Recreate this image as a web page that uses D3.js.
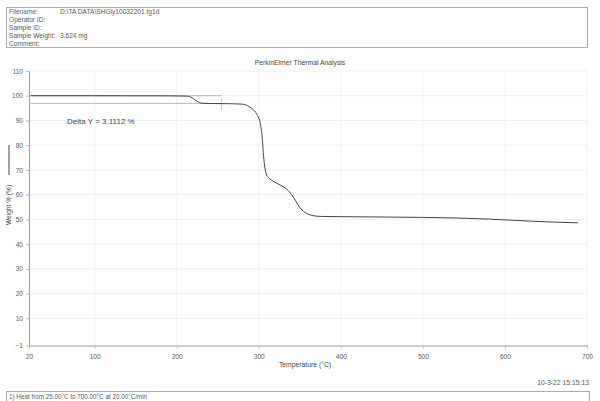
<!DOCTYPE html>
<html><head><meta charset="utf-8">
<script src="https://cdn.jsdelivr.net/npm/d3@7"></script>
<style>body{margin:0;background:#fff}svg{display:block}text{font-family:"Liberation Sans",Arial,sans-serif}</style>
</head><body><svg id="c" width="600" height="401"></svg>
<script>
const temperature = [22,100,190,212,216,219,222,225,228,232,240,260,280,286,291,295,298,301,303,304.5,305.5,307,309,312,316,322,330,336,340,345,350,356,362,368,376,400,450,500,537,582,630,660,689];
const weight = [100.0,100.0,99.95,99.85,99.6,99.1,98.4,97.7,97.2,96.95,96.85,96.8,96.6,96.0,95.0,93.8,92.3,90.0,86.5,82,77,72,68.5,66.8,65.8,64.6,63.2,61.6,60.0,57.5,54.8,52.9,51.9,51.4,51.2,51.1,50.95,50.8,50.6,50.1,49.3,48.9,48.6];
const xTicks = [20,100,200,300,400,500,600,700];
const yTicks = [-1,10,20,30,40,50,60,70,80,90,100,110];
const deltaRef = [100.0, 96.89];
const deltaEndT = 254.8;
const header = [["Filename:","D:\\TA DATA\\SHGly10032201.tg1d"],["Operator ID:",""],["Sample ID:",""],["Sample Weight:","3.624 mg"],["Comment:",""]];

const svg = d3.select("#c");
const x = d3.scaleLinear().domain([20,700]).range([29,587]);
const y = d3.scaleLinear().domain([-1,110]).range([345.5,71]);
const txt = "#5a5a5a", ax = "#9a9a9a";

// header box
svg.append("rect").attr("x",6.5).attr("y",7.5).attr("width",581).attr("height",40).attr("fill","none").attr("stroke","#aaa");
header.forEach((h,i)=>{
  const yy = 14 + i*8;
  svg.append("text").attr("x",9).attr("y",yy).attr("font-size",6.6).attr("fill",txt).text(h[0]);
  if(h[1]) svg.append("text").attr("x",60).attr("y",yy).attr("font-size",6.6).attr("fill",txt).text(h[1]);
});

svg.append("text").attr("x",300).attr("y",65).attr("text-anchor","middle").attr("font-size",6.8).attr("fill","#444").text("PerkinElmer Thermal Analysis");

// grid
svg.append("g").selectAll("line").data(yTicks.filter(d=>d!==-1)).join("line")
  .attr("x1",x(20)).attr("x2",x(700)).attr("y1",d=>y(d)).attr("y2",d=>y(d)).attr("stroke","#efefef").attr("stroke-width",1);
svg.append("g").selectAll("line").data(xTicks.filter(d=>d!==20)).join("line")
  .attr("y1",y(-1)).attr("y2",y(110)).attr("x1",d=>x(d)).attr("x2",d=>x(d)).attr("stroke","#f2f2f2").attr("stroke-width",1);

// axes
const gx = svg.append("g").attr("transform",`translate(0,${y(-1)})`)
  .call(d3.axisBottom(x).tickValues(xTicks).tickSize(3).tickSizeOuter(0).tickFormat(d3.format("d")));
const gy = svg.append("g").attr("transform",`translate(${x(20)},0)`)
  .call(d3.axisLeft(y).tickValues(yTicks).tickSize(3).tickSizeOuter(0).tickFormat(d3.format("d")));
[gx,gy].forEach(g=>{
  g.select(".domain").attr("stroke",ax);
  g.selectAll(".tick line").attr("stroke","#bbb");
  g.selectAll("text").attr("fill",txt).attr("font-size",6.6).attr("font-family","Liberation Sans, Arial, sans-serif");
});
gx.selectAll("text").attr("dy","1.1em");
gy.selectAll("text").attr("x",-6);

svg.append("text").attr("x",305).attr("y",367).attr("text-anchor","middle").attr("font-size",6.8).attr("fill","#444").text("Temperature (°C)");
const yl = svg.append("g").attr("transform","translate(11,205) rotate(-90)");
yl.append("text").attr("x",0).attr("y",0).attr("text-anchor","middle").attr("font-size",6.6).attr("fill","#444").text("Weight % (%)");
yl.append("line").attr("x1",30).attr("x2",60).attr("y1",-2).attr("y2",-2).attr("stroke","#444").attr("stroke-width",1);

// delta Y reference lines
svg.append("g").selectAll("line").data(deltaRef).join("line")
  .attr("x1",x(20)).attr("x2",x(deltaEndT)).attr("y1",d=>y(d)).attr("y2",d=>y(d)).attr("stroke","#aaa").attr("stroke-width",0.8);
svg.append("line").attr("x1",x(deltaEndT)).attr("x2",x(deltaEndT)).attr("y1",y(99.1)).attr("y2",y(94.2)).attr("stroke","#bbb").attr("stroke-width",0.8);
svg.append("text").attr("x",67).attr("y",124).attr("font-size",8).attr("fill","#444").text("Delta Y = 3.1112 %");

// curve
const pts = temperature.map((t,i)=>[t,weight[i]]);
svg.append("path").datum(pts).attr("fill","none").attr("stroke","#444").attr("stroke-width",1)
  .attr("d", d3.line().x(d=>x(d[0])).y(d=>y(d[1])).curve(d3.curveMonotoneX));

// footer
svg.append("text").attr("x",589).attr("y",385).attr("text-anchor","end").attr("font-size",6.8).attr("fill",txt).text("10-3-22 15:15:13");
svg.append("rect").attr("x",6.5).attr("y",391.5).attr("width",583).attr("height",14).attr("fill","none").attr("stroke","#aaa");
svg.append("text").attr("x",9).attr("y",398.5).attr("font-size",6.3).attr("fill",txt).text("1)  Heat from 25.00°C to 700.00°C at 20.00°C/min");
</script></body></html>
